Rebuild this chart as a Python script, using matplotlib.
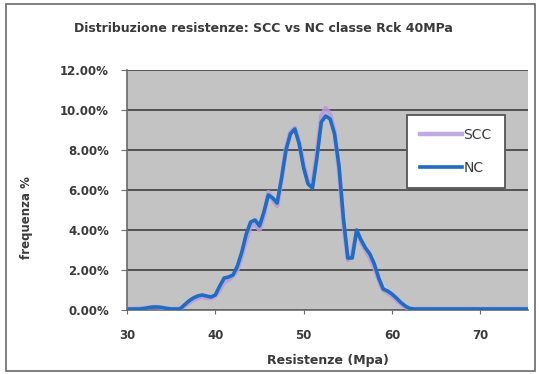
import numpy as np
import matplotlib
matplotlib.use("Agg")
import matplotlib.pyplot as plt
from matplotlib.patches import Rectangle

plt.rcParams['font.family'] = ['DejaVu Sans']

# Resistance classes (MPa), 0.5 MPa step
resistenza = np.arange(30.0, 75.51, 0.5)

# Frequency (%) for normal concrete
nc = [0.05, 0.05, 0.05, 0.05, 0.08, 0.12, 0.15, 0.15, 0.12, 0.08,   # 30-34.5
      0.05, 0.05, 0.05, 0.25, 0.45, 0.6, 0.7, 0.75, 0.7, 0.65,      # 35-39.5
      0.75, 1.2, 1.6, 1.65, 1.75, 2.2, 2.9, 3.8, 4.4, 4.5,          # 40-44.5
      4.2, 4.9, 5.75, 5.6, 5.35, 6.6, 8.0, 8.8, 9.05, 8.3,          # 45-49.5
      7.1, 6.3, 6.1, 7.6, 9.4, 9.7, 9.55, 8.8, 7.2, 4.6,            # 50-54.5
      2.6, 2.6, 4.0, 3.5, 3.1, 2.8, 2.3, 1.6, 1.05, 0.95,           # 55-59.5
      0.8, 0.6, 0.38, 0.2, 0.08, 0.05, 0.05, 0.05, 0.05, 0.05,      # 60-64.5
      0.05, 0.05, 0.05, 0.05, 0.05, 0.05, 0.05, 0.05, 0.05, 0.05,   # 65-69.5
      0.05, 0.05, 0.05, 0.05, 0.05, 0.05, 0.05, 0.05, 0.05, 0.05,   # 70-74.5
      0.05, 0.05]                                                   # 75-75.5

# Frequency (%) for self-compacting concrete
scc = [0.05, 0.05, 0.06, 0.07, 0.1, 0.13, 0.15, 0.14, 0.1, 0.07,
       0.05, 0.05, 0.07, 0.2, 0.35, 0.5, 0.6, 0.65, 0.6, 0.6,
       0.7, 1.0, 1.4, 1.5, 1.7, 2.0, 2.7, 3.5, 4.2, 4.3,
       4.0, 4.7, 5.9, 5.5, 5.2, 6.5, 8.1, 8.9, 9.1, 8.4,
       7.3, 6.4, 6.3, 7.9, 9.7, 10.1, 9.8, 8.9, 7.0, 4.3,
       2.5, 2.8, 3.9, 3.4, 3.0, 2.6, 2.1, 1.5, 1.0, 0.85,
       0.7, 0.5, 0.3, 0.15, 0.06, 0.05, 0.05, 0.05, 0.05, 0.05,
       0.05, 0.05, 0.05, 0.05, 0.05, 0.05, 0.05, 0.05, 0.05, 0.05,
       0.05, 0.05, 0.05, 0.05, 0.05, 0.05, 0.05, 0.05, 0.05, 0.05,
       0.05, 0.05]

y_ticks = [0, 2, 4, 6, 8, 10, 12]
y_tick_labels = ["0.00%", "2.00%", "4.00%", "6.00%", "8.00%", "10.00%", "12.00%"]
x_ticks = [30, 40, 50, 60, 70]

text_col = "#3a3a3a"

fig = plt.figure(figsize=(5.39, 3.74), dpi=100)
fig.patch.set_facecolor("white")
fig.patches.append(Rectangle((0.011, 0.008), 0.981, 0.981, transform=fig.transFigure,
                             fill=False, edgecolor="#6a6a6a", linewidth=1.2))

ax = fig.add_axes([0.2356, 0.1711, 0.744, 0.6417])
ax.set_facecolor("#c3c3c3")

ax.plot(resistenza, scc, color="#b79ade", linewidth=3.2, alpha=0.85, label="SCC",
        solid_joinstyle="round", zorder=3)
ax.plot(resistenza, nc, color="#1f6cc4", linewidth=2.6, label="NC",
        solid_joinstyle="round", zorder=4)

ax.set_xlim(30, 75.4)
ax.set_ylim(0, 12)
ax.set_yticks(y_ticks)
ax.set_yticklabels(y_tick_labels)
ax.set_xticks(x_ticks)
ax.grid(axis="y", color="#4a4a4a", linewidth=1.3)
ax.set_axisbelow(True)

for side in ("top", "right"):
    ax.spines[side].set_visible(False)
ax.spines["left"].set_color("#6a6a6a")
ax.spines["bottom"].set_color("#6a6a6a")
ax.spines["left"].set_linewidth(1.2)
ax.spines["bottom"].set_linewidth(1.2)
ax.tick_params(axis="y", direction="out", length=4, color="#6a6a6a",
               labelsize=8.5, labelcolor=text_col, pad=9)
ax.tick_params(axis="x", direction="out", length=3, color="#6a6a6a",
               labelsize=8.5, labelcolor=text_col, pad=11)
for lab in ax.get_yticklabels() + ax.get_xticklabels():
    lab.set_fontweight("bold")

ax.set_xlabel("Resistenze (Mpa)", fontsize=9, fontweight="bold", color=text_col, labelpad=8)
fig.text(0.049, 0.417, "frequenza %", rotation=90, ha="center", va="center",
         fontsize=8.5, fontweight="bold", color=text_col)

fig.text(0.488, 0.925, "Distribuzione resistenze: SCC vs NC classe Rck 40MPa",
         ha="center", va="center", fontsize=9, fontweight="bold", color=text_col)

leg = ax.legend(loc="upper left", bbox_to_anchor=(0.698, 0.8125), frameon=True,
                fancybox=False, fontsize=10, handlelength=3.0, handletextpad=0.1,
                labelspacing=1.35, borderpad=0.95, borderaxespad=0)
leg.get_frame().set_edgecolor("#555555")
leg.get_frame().set_linewidth(1.3)
leg.get_frame().set_facecolor("white")
leg.get_frame().set_alpha(1)
for t in leg.get_texts():
    t.set_color(text_col)

fig.savefig("out.png", dpi=100)
